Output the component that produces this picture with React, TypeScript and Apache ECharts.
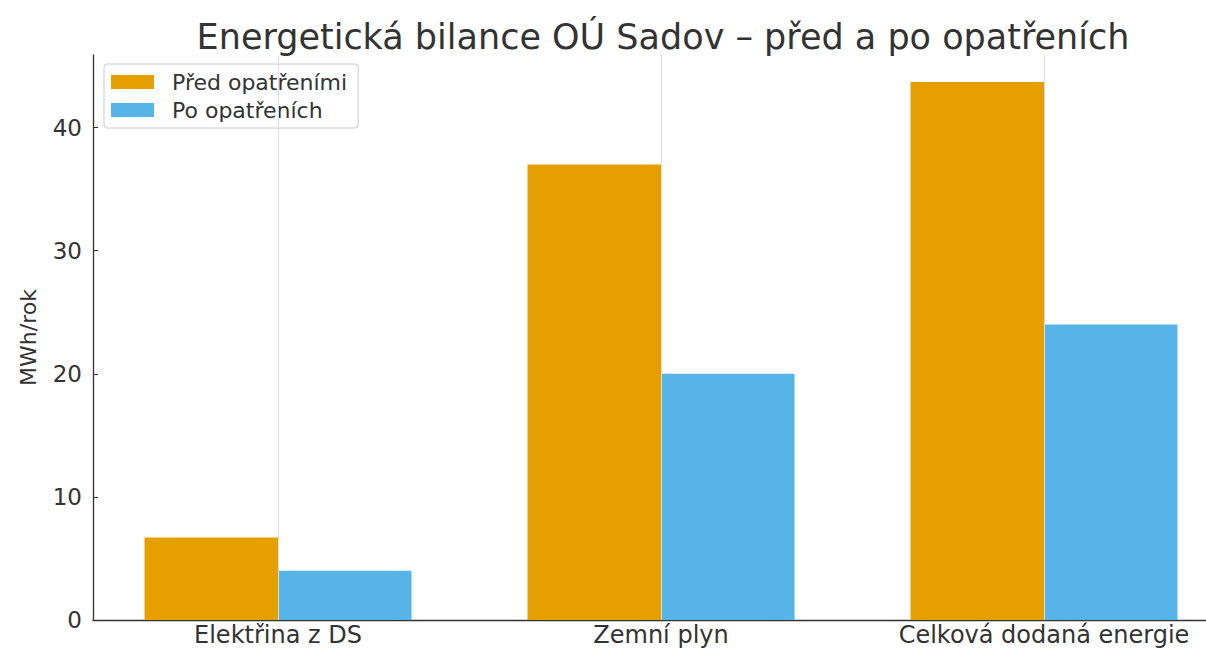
import React, { useEffect, useRef } from "react";
import * as echarts from "echarts";

const categories = ["Elektřina z DS", "Zemní plyn", "Celková dodaná energie"];
const seriesNames = ["Před opatřeními", "Po opatřeních"];
const beforeValues = [6.7, 37.0, 43.7];
const afterValues = [4.0, 20.0, 24.0];
const yTicks = { min: 0, max: 45.9, interval: 10 };

const FONT = "DejaVu Sans";

export default function App() {
  const ref = useRef<HTMLDivElement>(null);
  useEffect(() => {
    if (!ref.current) return;
    const chart = echarts.init(ref.current, undefined, { renderer: "svg" });
    chart.setOption({
      animation: false,
      backgroundColor: "#ffffff",
      textStyle: { fontFamily: FONT },
      title: {
        text: "Energetická bilance OÚ Sadov – před a po opatřeních",
        left: 658,
        textAlign: "center",
        top: 14,
        textStyle: { fontFamily: FONT, fontSize: 35, fontWeight: "normal", color: "#333" },
      },
      legend: {
        data: seriesNames,
        orient: "vertical",
        left: 104,
        top: 64,
        padding: [7, 11, 7, 7],
        itemWidth: 43,
        itemHeight: 14,
        itemGap: 6,
        icon: "rect",
        borderColor: "#cccccc",
        borderWidth: 1,
        borderRadius: 3,
        backgroundColor: "rgba(255,255,255,0.85)",
        textStyle: { fontFamily: FONT, fontSize: 22, color: "#333", padding: [0, 0, 0, 13] },
      },
      grid: [
        { left: 86.5, width: 1149, top: 55, bottom: 28, outerBoundsMode: "none", containLabel: false },
        { left: 93, width: 1200, top: 55, bottom: 28, outerBoundsMode: "none", containLabel: false },
      ],
      xAxis: [
        {
          type: "category",
          gridIndex: 0,
          data: categories,
          axisLine: { show: false },
          axisTick: { show: false },
          splitLine: { show: false },
          axisLabel: {
            fontFamily: FONT,
            fontSize: 24,
            lineHeight: 24,
            color: "#333",
            margin: 3,
            interval: 0,
            hideOverlap: false,
          },
        },
        {
          type: "value",
          gridIndex: 1,
          min: 0,
          max: 1,
          axisLine: { show: true, lineStyle: { color: "#333", width: 1.3 } },
          axisTick: { show: false },
          axisLabel: { show: false },
          splitLine: { show: false },
        },
      ],
      yAxis: [
        {
          type: "value",
          gridIndex: 0,
          min: yTicks.min,
          max: yTicks.max,
          show: false,
          splitLine: { show: false },
        },
        {
          type: "value",
          gridIndex: 1,
          min: yTicks.min,
          max: yTicks.max,
          interval: yTicks.interval,
          name: "MWh/rok",
          nameLocation: "middle",
          nameGap: 54,
          nameTextStyle: { fontFamily: FONT, fontSize: 22, color: "#333" },
          axisLine: { show: true, lineStyle: { color: "#333", width: 1.3 } },
          axisTick: { show: true, inside: true, length: 5, lineStyle: { color: "#333" } },
          axisLabel: {
            fontFamily: FONT,
            fontSize: 23,
            color: "#333",
            margin: 11,
            showMaxLabel: false,
            formatter: (v: number) => (v % 10 === 0 ? String(v) : ""),
          },
          splitLine: { show: false },
        },
      ],
      series: [
        {
          name: "grid",
          type: "line",
          xAxisIndex: 0,
          yAxisIndex: 0,
          data: [],
          silent: true,
          z: 0,
          markLine: {
            silent: true,
            symbol: ["none", "none"],
            label: { show: false },
            lineStyle: { color: "#dddddd", type: "solid", width: 1 },
            data: categories.map((c) => ({ xAxis: c })),
          },
        },
        {
          name: seriesNames[0],
          type: "bar",
          xAxisIndex: 0,
          yAxisIndex: 0,
          data: beforeValues,
          barWidth: 133.5,
          barGap: "0%",
          itemStyle: { color: "#E69F00" },
        },
        {
          name: seriesNames[1],
          type: "bar",
          xAxisIndex: 0,
          yAxisIndex: 0,
          data: afterValues,
          barWidth: 133.5,
          barGap: "0%",
          itemStyle: { color: "#56B4E9" },
        },
      ],
    });
    return () => chart.dispose();
  }, []);
  return (
    <div
      ref={ref}
      style={{ position: "fixed", left: 0, top: 0, width: 1206, height: 648 }}
    />
  );
}
